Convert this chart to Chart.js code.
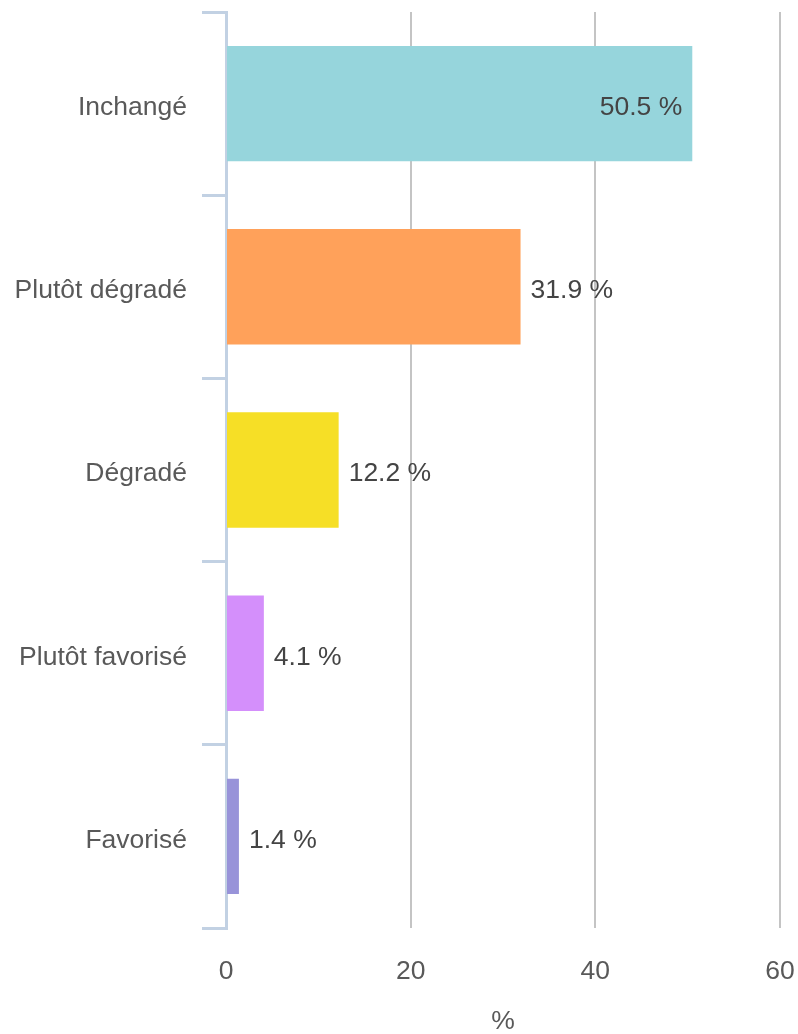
<!DOCTYPE html>
<html lang="fr">
<head>
<meta charset="utf-8">
<script src="https://cdn.jsdelivr.net/npm/chart.js@4/dist/chart.umd.min.js"></script>
<style>
  html, body { margin: 0; padding: 0; background: #fff; }
  #wrap { width: 798px; height: 1034px; }
</style>
</head>
<body>
<div id="wrap"><canvas id="chart"></canvas></div>
<script>
// Données
const categories = ['Inchangé', 'Plutôt dégradé', 'Dégradé', 'Plutôt favorisé', 'Favorisé'];
const valeurs = [50.5, 31.9, 12.2, 4.1, 1.4];
const couleurs = ['#96d5dc', '#ffa15a', '#f6df26', '#d48ffb', '#9893d9'];
const ticksX = [0, 20, 40, 60];

const police = "'Liberation Sans', Arial, sans-serif";
const taille = 26.5;
const couleurAxe = '#c2d1e3';

// Étiquettes de valeur (pas de plugin datalabels disponible)
const etiquettesPlugin = {
    id: 'etiquettes',
    afterDatasetsDraw(chart) {
        const ctx = chart.ctx;
        const meta = chart.getDatasetMeta(0);
        ctx.save();
        ctx.font = taille + 'px ' + police;
        ctx.fillStyle = '#444444';
        ctx.textBaseline = 'middle';
        meta.data.forEach((bar, i) => {
            const texte = valeurs[i].toFixed(1) + ' %';
            const largeur = ctx.measureText(texte).width;
            const dedans = bar.x + 10 + largeur > chart.chartArea.right - 20;
            if (dedans) {
                ctx.textAlign = 'right';
                ctx.fillText(texte, bar.x - 10, bar.y + 4);
            } else {
                ctx.textAlign = 'left';
                ctx.fillText(texte, bar.x + 10, bar.y + 4);
            }
        });
        ctx.restore();
    }
};

new Chart(document.getElementById('chart'), {
    type: 'bar',
    data: {
        labels: categories,
        datasets: [{
            data: valeurs,
            backgroundColor: couleurs,
            borderWidth: 0,
            categoryPercentage: 1,
            barPercentage: 0.63
        }]
    },
    options: {
        indexAxis: 'y',
        responsive: true,
        maintainAspectRatio: false,
        animation: false,
        layout: { padding: { top: 12, right: 18, left: 0, bottom: 0 } },
        plugins: {
            legend: { display: false },
            tooltip: { enabled: false }
        },
        scales: {
            x: {
                min: 0,
                max: 60,
                afterFit: (scale) => {
                    scale.height = 106;
                    scale.paddingLeft = 0;
                    scale.paddingRight = 0;
                },
                afterBuildTicks: (scale) => { scale.ticks = ticksX.map(v => ({ value: v })); },
                grid: { color: '#c4c4c4', lineWidth: 2, drawTicks: false },
                border: { display: false },
                ticks: {
                    padding: 28,
                    color: '#595959',
                    font: { family: police, size: taille }
                },
                title: {
                    display: true,
                    text: '%',
                    color: '#595959',
                    font: { family: police, size: taille },
                    padding: { top: 0, bottom: -4 }
                }
            },
            y: {
                afterFit: (scale) => {
                    scale.width = 226;
                    scale.paddingTop = 0;
                    scale.paddingBottom = 0;
                },
                grid: {
                    drawOnChartArea: false,
                    offset: true,
                    color: couleurAxe,
                    lineWidth: 3,
                    tickLength: 24
                },
                border: { color: couleurAxe, width: 3 },
                ticks: {
                    padding: 15,
                    labelOffset: 4,
                    color: '#595959',
                    font: { family: police, size: taille }
                }
            }
        }
    },
    plugins: [etiquettesPlugin]
});
</script>
</body>
</html>
